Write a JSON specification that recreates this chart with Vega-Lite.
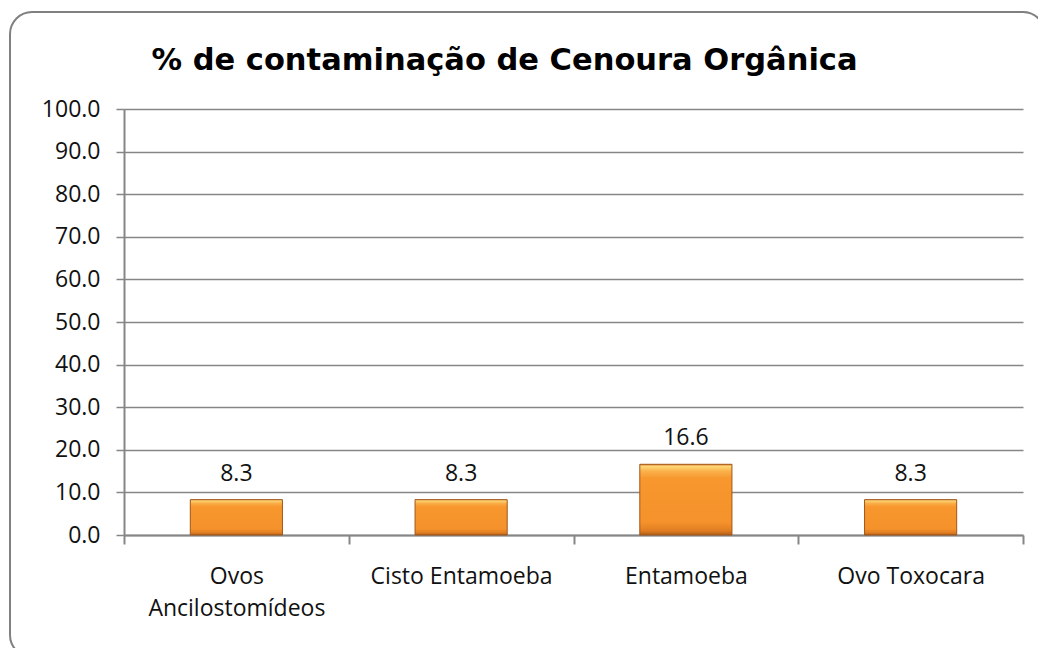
{
  "$schema": "https://vega.github.io/schema/vega-lite/v6.json",
  "width": 1035,
  "height": 645,
  "autosize": {"type": "none"},
  "padding": {"left": 10, "top": 12, "right": 0, "bottom": 0},
  "background": "white",
  "title": {
    "text": "% de contaminação de Cenoura Orgânica",
    "font": "DejaVu Sans",
    "fontSize": 30.5,
    "fontWeight": "bold",
    "color": "#000000",
    "anchor": "middle",
    "frame": "group",
    "baseline": "alphabetic",
    "offset": -88,
    "dx": -23
  },
  "config": {
    "view": {"stroke": "#808080", "strokeWidth": 2, "cornerRadius": 22, "fill": "white"},
    "axis": {
      "labelFont": "Open Sans",
      "labelFontSize": 23,
      "labelColor": "#111111",
      "labelLimit": 400,
      "domainColor": "#868686",
      "tickColor": "#868686",
      "gridColor": "#868686"
    }
  },
  "data": {
    "values": [
      {"categoria": "Ovos Ancilostomídeos", "valor": 8.3},
      {"categoria": "Cisto Entamoeba", "valor": 8.3},
      {"categoria": "Entamoeba", "valor": 16.6},
      {"categoria": "Ovo Toxocara", "valor": 8.3}
    ]
  },
  "encoding": {
    "x": {
      "field": "categoria",
      "type": "nominal",
      "sort": null,
      "scale": {"range": [114, 1013], "paddingInner": 0, "paddingOuter": 0},
      "axis": {
        "title": null,
        "labelAngle": 0,
        "offset": -122,
        "domainWidth": 2,
        "tickSize": 9,
        "tickWidth": 2,
        "tickBand": "extent",
        "labelPadding": 21,
        "labelLineHeight": 32,
        "labelLimit": 400,
        "labelOverlap": false,
        "labelExpr": "datum.value == 'Ovos Ancilostomídeos' ? ['Ovos', 'Ancilostomídeos'] : datum.value"
      }
    },
    "y": {
      "field": "valor",
      "type": "quantitative",
      "scale": {"domain": [0, 100], "range": [523, 97], "nice": false, "zero": true},
      "axis": {
        "title": null,
        "offset": -114,
        "values": [0, 10, 20, 30, 40, 50, 60, 70, 80, 90, 100],
        "format": ".1f",
        "domainWidth": 2,
        "tickSize": 8,
        "tickWidth": 1.5,
        "gridWidth": 1.3,
        "labelPadding": 16
      }
    }
  },
  "layer": [
    {
      "mark": {
        "type": "bar",
        "width": {"band": 0.41},
        "stroke": "#a0561a",
        "strokeWidth": 1,
        "color": {
          "gradient": "linear",
          "x1": 0, "y1": 0, "x2": 0, "y2": 1,
          "stops": [
            {"offset": 0, "color": "#e0862c"},
            {"offset": 0.03, "color": "#fdd676"},
            {"offset": 0.1, "color": "#fab04a"},
            {"offset": 0.2, "color": "#f8972e"},
            {"offset": 0.82, "color": "#f5922b"},
            {"offset": 0.94, "color": "#e07d22"},
            {"offset": 1, "color": "#b25e16"}
          ]
        }
      }
    },
    {
      "mark": {
        "type": "text",
        "font": "Open Sans",
        "fontSize": 23,
        "color": "#111111",
        "baseline": "middle",
        "dy": -26
      },
      "encoding": {"text": {"field": "valor", "type": "quantitative", "format": ".1f"}}
    }
  ]
}
